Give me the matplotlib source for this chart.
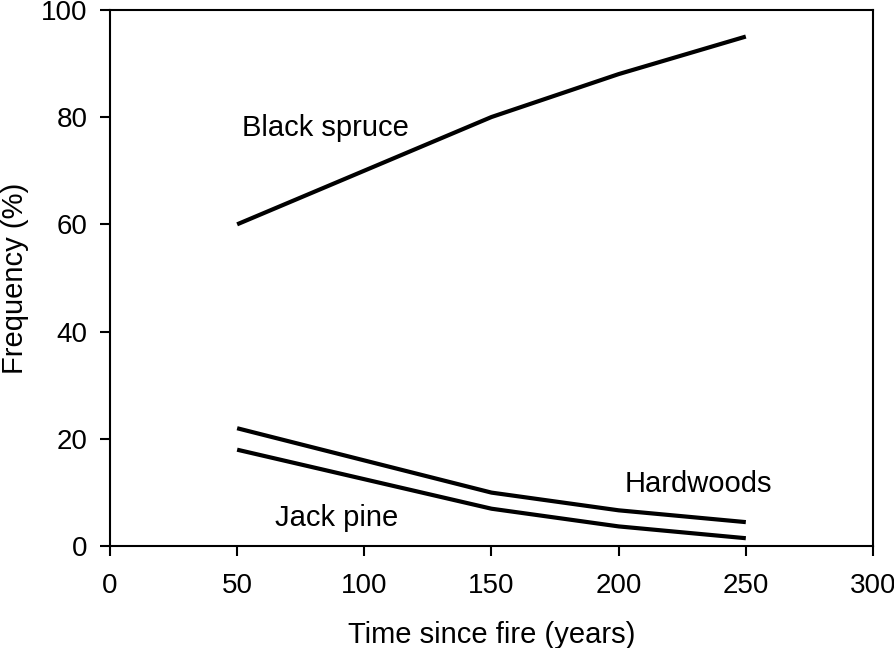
import matplotlib
matplotlib.use('Agg')
import matplotlib.pyplot as plt

plt.rcParams['font.family'] = ['Liberation Sans', 'DejaVu Sans']

years = [50, 100, 150, 200, 250]
black_spruce = [60, 70, 80, 88, 95]
hardwoods = [22, 16, 10, 6.7, 4.5]
jack_pine = [18, 12.5, 7, 3.7, 1.5]

fig = plt.figure(figsize=(8.94, 6.48), dpi=100)
ax = fig.add_axes([0.123, 0.157, 0.8535, 0.828])

for series in (black_spruce, hardwoods, jack_pine):
    ax.plot(years, series, color='black', linewidth=3, solid_capstyle='butt')

ax.text(52, 78, 'Black spruce', fontsize=21, va='center', ha='left')
ax.text(202.5, 11.6, 'Hardwoods', fontsize=21, va='center', ha='left')
ax.text(65, 5.2, 'Jack pine', fontsize=21, va='center', ha='left')

ax.set_xlim(0, 300)
ax.set_ylim(0, 100)
ax.set_xticks(range(0, 301, 50))
ax.set_yticks(range(0, 101, 20))
ax.tick_params(direction='out', length=7, width=1.5, labelsize=20,
               top=False, right=False)
ax.tick_params(axis='x', pad=12)
ax.tick_params(axis='y', pad=9)
for sp in ax.spines.values():
    sp.set_linewidth(1.5)

ax.set_xlabel('Time since fire (years)', fontsize=21, labelpad=16)
ax.set_ylabel('Frequency (%)', fontsize=21)
ax.yaxis.set_label_coords(-0.106, 0.5)

fig.savefig('out.png', dpi=100)
